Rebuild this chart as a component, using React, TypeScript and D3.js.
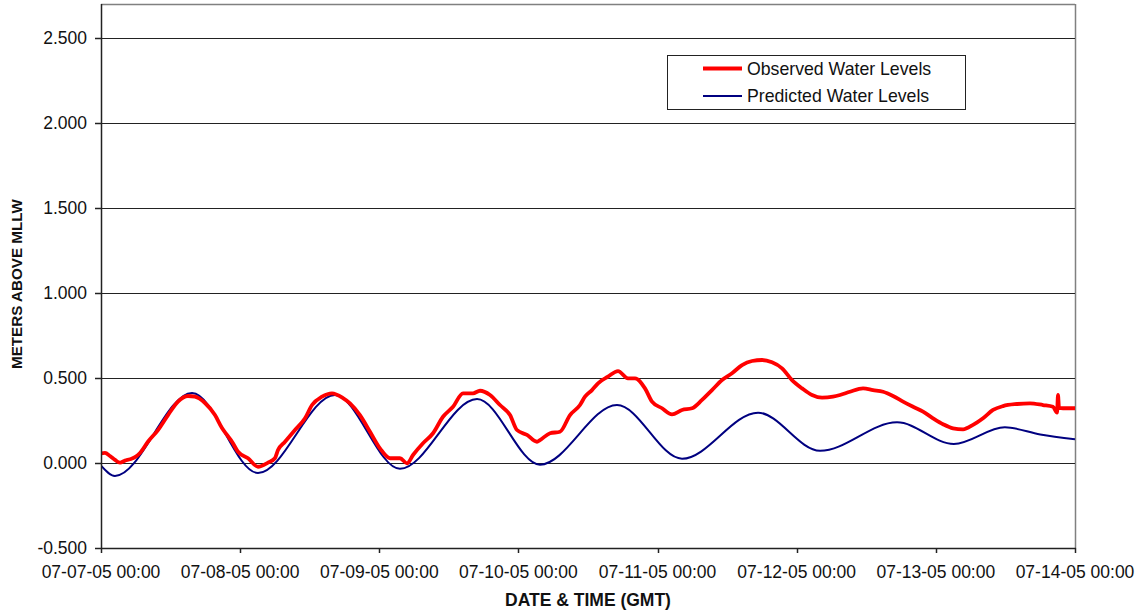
import React from "react";
import * as d3 from "d3";

// Hours since 2005-07-07 00:00 GMT, and water level (m above MLLW)
const obsHours = [0, 0.69, 1.55, 2.41, 3.28, 4.14, 5.0, 5.86, 6.73, 8.1, 9.83, 11.56, 13.28, 15.0, 16.2, 17.94, 19.66, 20.87, 21.73, 22.6, 23.63, 25.36, 27.08, 28.8, 30.0, 30.53, 31.74, 33.46, 35.19, 36.4, 38.12, 39.84, 41.74, 42.95, 44.67, 46.4, 48.12, 49.85, 51.57, 52.78, 53.82, 55.54, 57.27, 58.99, 60.72, 62.44, 64.17, 65.37, 67.1, 68.82, 70.55, 71.75, 73.48, 75.2, 75.72, 77.45, 79.17, 80.9, 82.62, 83.48, 84.69, 85.73, 87.45, 89.18, 90.9, 92.11, 93.83, 95.04, 96.77, 98.49, 100.22, 101.94, 103.67, 105.39, 107.12, 108.84, 110.57, 112.29, 114.02, 115.74, 117.47, 119.19, 120.92, 122.64, 124.37, 126.26, 127.47, 129.19, 131.44, 133.16, 134.89, 136.61, 138.34, 140.06, 141.79, 143.51, 145.24, 146.96, 148.69, 150.41, 152.14, 153.86, 155.59, 158.0, 160.24, 162.48, 164.21, 164.9, 165.07, 165.24, 165.93, 168];
const obsValues = [0.057, 0.06, 0.041, 0.018, 0.002, 0.014, 0.022, 0.034, 0.059, 0.125, 0.194, 0.282, 0.361, 0.394, 0.39, 0.353, 0.282, 0.206, 0.165, 0.125, 0.066, 0.028, -0.022, 0.002, 0.028, 0.076, 0.125, 0.194, 0.263, 0.341, 0.39, 0.41, 0.382, 0.351, 0.282, 0.184, 0.086, 0.028, 0.028, -0.002, 0.047, 0.116, 0.175, 0.272, 0.331, 0.41, 0.41, 0.425, 0.4, 0.341, 0.282, 0.194, 0.165, 0.125, 0.135, 0.175, 0.184, 0.282, 0.341, 0.39, 0.429, 0.469, 0.508, 0.541, 0.498, 0.498, 0.439, 0.361, 0.322, 0.286, 0.312, 0.322, 0.371, 0.429, 0.488, 0.528, 0.576, 0.6, 0.606, 0.592, 0.557, 0.488, 0.439, 0.4, 0.384, 0.39, 0.4, 0.419, 0.439, 0.429, 0.419, 0.394, 0.361, 0.331, 0.302, 0.263, 0.228, 0.204, 0.198, 0.224, 0.263, 0.312, 0.335, 0.347, 0.351, 0.341, 0.331, 0.296, 0.4, 0.324, 0.322, 0.322];

const predHours = [0, 2.41, 15.7, 27.08, 40.36, 51.57, 64.86, 75.72, 89.0, 100.22, 113.33, 124.02, 137.3, 147.1, 155.9, 162.0, 168];
const predValues = [-0.015, -0.076, 0.412, -0.059, 0.4, -0.034, 0.376, -0.01, 0.341, 0.025, 0.296, 0.072, 0.239, 0.112, 0.21, 0.168, 0.139];

const yTicks = [-0.5, 0, 0.5, 1.0, 1.5, 2.0, 2.5];
const xTickDays = [0, 1, 2, 3, 4, 5, 6, 7];
const seriesNames = ["Observed Water Levels", "Predicted Water Levels"];

const W = 1145;
const H = 616;
const M = { left: 101, right: 1075, top: 4, bottom: 548 };
const FONT = "Arial, 'Liberation Sans', sans-serif";

export default function App() {
  const start = new Date(Date.UTC(2005, 6, 7, 0, 0));
  const toDate = (h: number) => new Date(start.getTime() + h * 3600 * 1000);
  const x = d3.scaleUtc().domain([start, toDate(168)]).range([M.left, M.right]);
  const y = d3.scaleLinear().domain([-0.5, 2.7]).range([M.bottom, M.top]);
  const fmt = d3.utcFormat("%m-%d-%y %H:%M");
  const yFmt = (t: number) => (t < 0 ? "-" : "") + Math.abs(t).toFixed(3);

  const obs = obsHours.map((h, i) => ({ t: toDate(h), v: obsValues[i] }));
  const pred = predHours.map((h, i) => ({ t: toDate(h), v: predValues[i] }));

  const obsLine = d3
    .line<{ t: Date; v: number }>()
    .x((d) => x(d.t))
    .y((d) => y(d.v))
    .curve(d3.curveMonotoneX);
  const predLine = d3
    .line<{ t: Date; v: number }>()
    .x((d) => x(d.t))
    .y((d) => y(d.v))
    .curve(d3.curveMonotoneX);

  const xTicks = xTickDays.map((d) => toDate(d * 24));

  return (
    <svg
      width={W}
      height={H}
      style={{ position: "fixed", left: 0, top: 0, background: "#fff" }}
      fontFamily={FONT}
    >
      <rect x={0} y={0} width={W} height={H} fill="#fff" />
      {/* plot frame top/right */}
      <line x1={M.left} x2={M.right} y1={M.top + 0.5} y2={M.top + 0.5} stroke="#808080" strokeWidth={1.5} />
      <line x1={M.right + 0.5} x2={M.right + 0.5} y1={M.top} y2={M.bottom} stroke="#808080" strokeWidth={1.5} />
      {/* gridlines */}
      {yTicks
        .filter((t) => t > -0.5)
        .map((t) => (
          <line
            key={"g" + t}
            x1={M.left}
            x2={M.right}
            y1={Math.round(y(t)) + 0.5}
            y2={Math.round(y(t)) + 0.5}
            stroke="#222"
            strokeWidth={1}
          />
        ))}
      {/* lines */}
      <clipPath id="clip">
        <rect x={M.left} y={M.top} width={M.right - M.left} height={M.bottom - M.top} />
      </clipPath>
      <g clipPath="url(#clip)">
        <path d={predLine(pred) || ""} fill="none" stroke="#000080" strokeWidth={2} />
        <path d={obsLine(obs) || ""} fill="none" stroke="#ff0000" strokeWidth={3.8} strokeLinejoin="round" />
      </g>
      {/* axes */}
      <line x1={M.left + 0.5} x2={M.left + 0.5} y1={M.top} y2={M.bottom} stroke="#222" strokeWidth={1.5} />
      <line x1={M.left} x2={M.right + 1} y1={M.bottom + 0.5} y2={M.bottom + 0.5} stroke="#222" strokeWidth={1.5} />
      {yTicks.map((t) => (
        <g key={"yt" + t}>
          <line x1={M.left - 6} x2={M.left} y1={Math.round(y(t)) + 0.5} y2={Math.round(y(t)) + 0.5} stroke="#222" strokeWidth={1.5} />
          <text x={87} y={y(t)} dy="0.36em" textAnchor="end" fontSize={17.5} fill="#111">
            {yFmt(t)}
          </text>
        </g>
      ))}
      {xTicks.map((t, i) => (
        <g key={"xt" + i}>
          <line x1={Math.round(x(t)) + 0.5} x2={Math.round(x(t)) + 0.5} y1={M.bottom} y2={M.bottom + 5} stroke="#222" strokeWidth={1.5} />
          <text x={x(t)} y={578} textAnchor="middle" fontSize={17.5} fill="#111">
            {fmt(t)}
          </text>
        </g>
      ))}
      {/* axis titles */}
      <text x={(M.left + M.right) / 2} y={606} textAnchor="middle" fontSize={17.5} fontWeight="bold" fill="#111">
        DATE &amp; TIME (GMT)
      </text>
      <text
        transform={`translate(22, ${284}) rotate(-90)`}
        textAnchor="middle"
        fontSize={15.2}
        fontWeight="bold"
        fill="#111"
      >
        METERS ABOVE MLLW
      </text>
      {/* legend */}
      <rect x={667.5} y={55.5} width={298} height={54} fill="#fff" stroke="#222" strokeWidth={1} />
      <line x1={703} x2={742} y1={68.5} y2={68.5} stroke="#ff0000" strokeWidth={3.8} />
      <line x1={703} x2={742} y1={96} y2={96} stroke="#000080" strokeWidth={2} />
      <text x={747} y={68.5} dy="0.36em" fontSize={17.7} fill="#111">
        {seriesNames[0]}
      </text>
      <text x={747} y={96} dy="0.36em" fontSize={17.7} fill="#111">
        {seriesNames[1]}
      </text>
    </svg>
  );
}
